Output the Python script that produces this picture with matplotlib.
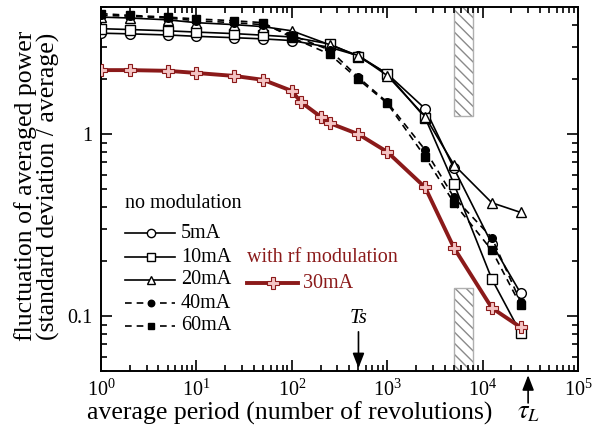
import matplotlib
matplotlib.use("Agg")
import matplotlib.pyplot as plt
from matplotlib.patches import Rectangle
from matplotlib.lines import Line2D
from matplotlib.ticker import LogLocator, FixedLocator, FixedFormatter, NullFormatter

plt.rcParams['font.family'] = ['Liberation Serif', 'DejaVu Serif']
plt.rcParams['mathtext.fontset'] = 'stix'

# ---- data ----
x_black = [1, 2, 5, 10, 25, 50, 100, 250, 500, 1000, 2500, 5000, 12500, 25000]
y_5mA = [3.59, 3.56, 3.51, 3.45, 3.39, 3.34, 3.27, 3.0, 2.7, 2.15, 1.38, 0.65, 0.25, 0.134]
y_10mA = [3.8, 3.76, 3.7, 3.64, 3.57, 3.5, 3.42, 3.13, 2.67, 2.15, 1.23, 0.535, 0.16, 0.081]
y_20mA = [4.4, 4.35, 4.25, 4.1, 4.0, 3.9, 3.7, 3.1, 2.7, 2.1, 1.25, 0.68, 0.42, 0.372]
y_40mA = [4.5, 4.45, 4.35, 4.2, 4.1, 4.0, 3.5, 2.9, 2.05, 1.5, 0.82, 0.45, 0.27, 0.12]
y_60mA = [4.6, 4.5, 4.4, 4.3, 4.2, 4.1, 3.4, 2.75, 2.0, 1.48, 0.75, 0.42, 0.23, 0.115]

x_rf = [1, 2, 5, 10, 25, 50, 100, 125, 200, 250, 500, 1000, 2500, 5000, 12500, 25000]
y_rf = [2.25, 2.25, 2.23, 2.17, 2.09, 1.99, 1.73, 1.5, 1.25, 1.15, 1.0, 0.80, 0.51, 0.238, 0.111, 0.087]

labels_black = ['5mA', '10mA', '20mA', '40mA', '60mA']
label_rf = '30mA'
hatch_x = [5000, 7900]
hatch_upper_y = 1.26
hatch_lower_y = 0.143
Ts_x = 500
tauL_x = 30000

dark_red = '#8b1a1a'
DASH = (0, (4, 3))

fig = plt.figure(figsize=(5.93, 4.32), dpi=100)
ax = fig.add_axes([0.1703, 0.1412, 0.8044, 0.8426])
ax.set_xscale('log')
ax.set_yscale('log')
ax.set_xlim(1, 1e5)
ax.set_ylim(0.05, 5)

# hatched regions
for (y0, y1) in [(hatch_upper_y, 5), (0.05, hatch_lower_y)]:
    ax.add_patch(Rectangle((hatch_x[0], y0), hatch_x[1] - hatch_x[0], y1 - y0,
                           facecolor='none', edgecolor='#8a8a8a', hatch='\\\\\\', lw=0, zorder=1))
    ax.add_patch(Rectangle((hatch_x[0], y0), hatch_x[1] - hatch_x[0], y1 - y0,
                           facecolor='none', edgecolor='#b0b0b0', lw=1.0, zorder=1))

styles = [
    dict(ls='-', marker='o', mfc='white', ms=7),
    dict(ls='-', marker='s', mfc='white', ms=7),
    dict(ls='-', marker='^', mfc='white', ms=7),
    dict(ls=DASH, marker='o', mfc='black', ms=5.5),
    dict(ls=DASH, marker='s', mfc='black', ms=5.5),
]
series = [y_5mA, y_10mA, y_20mA, y_40mA, y_60mA]
for ys, st in zip(series, styles):
    ax.plot(x_black, ys, color='black', lw=1.2, mec='black', mew=1.0, zorder=3,
            linestyle=st['ls'], marker=st['marker'], mfc=st['mfc'], ms=st['ms'])

ax.plot(x_rf, y_rf, color=dark_red, lw=2.8, marker='P', ms=8, mfc='#f4c4c4',
        mec=dark_red, mew=0.8, zorder=4)

# ticks
ax.tick_params(which='both', direction='in', top=True, right=True, width=1.2)
ax.tick_params(which='major', length=8, labelsize=14.5, pad=6)
ax.tick_params(which='minor', length=4.5)
ax.xaxis.set_major_locator(LogLocator(base=10, numticks=10))
ax.xaxis.set_minor_locator(LogLocator(base=10, subs=range(2, 10), numticks=20))
ax.xaxis.set_minor_formatter(NullFormatter())
ax.yaxis.set_major_locator(FixedLocator([0.1, 1]))
ax.yaxis.set_major_formatter(FixedFormatter(['0.1', '1']))
ax.yaxis.set_minor_locator(LogLocator(base=10, subs=range(2, 10), numticks=20))
ax.yaxis.set_minor_formatter(NullFormatter())
for sp in ax.spines.values():
    sp.set_linewidth(1.4)

fig.text(290 / 593, 1 - 413 / 432, 'average period (number of revolutions)', fontsize=18.5,
         ha='center', va='center')
fig.text(37 / 593, 1 - 186 / 432, 'fluctuation of averaged power\n(standard deviation / average)',
         fontsize=18.5, rotation=90, ha='center', va='center', multialignment='center',
         linespacing=0.95)

# legend (manual)
fig.text(125 / 593, 1 - 203 / 432, 'no modulation', fontsize=14.5, va='center', ha='left')
leg_rows = [233, 257, 280, 303, 326]
for yy, lab, st in zip(leg_rows, labels_black, styles):
    yf = 1 - yy / 432
    ln = Line2D([125 / 593, 175 / 593], [yf, yf], transform=fig.transFigure, color='black', lw=1.2,
                linestyle=st['ls'])
    fig.add_artist(ln)
    mk = Line2D([151 / 593], [yf], transform=fig.transFigure, marker=st['marker'], mfc=st['mfc'],
                mec='black', ms=st['ms'] * 0.85, color='black', linestyle='none')
    fig.add_artist(mk)
    fig.text(181 / 593, yf, lab, fontsize=14.5, va='center', ha='left')

fig.text(247 / 593, 1 - 257 / 432, 'with rf modulation', fontsize=14.5, va='center', ha='left', color=dark_red)
yf = 1 - 283 / 432
fig.add_artist(Line2D([247 / 593, 298 / 593], [yf, yf], transform=fig.transFigure, color=dark_red, lw=2.8))
fig.add_artist(Line2D([273 / 593], [yf], transform=fig.transFigure, marker='P', ms=8, mfc='#f4c4c4',
                      mec=dark_red, mew=0.8, linestyle='none'))
fig.text(303 / 593, yf, label_rf, fontsize=14.5, va='center', ha='left', color=dark_red)

# arrows
ax.annotate('', xy=(Ts_x, 0.05), xytext=(Ts_x, 0.085),
            arrowprops=dict(arrowstyle='-|>,head_length=0.9,head_width=0.35', color='black', lw=1.2))
ax.text(Ts_x, 0.097, 'Ts', fontsize=15, style='italic', ha='center', va='center')
ax.annotate('', xy=(tauL_x, 0.05), xycoords='data', xytext=(0, -23), textcoords='offset points',
            arrowprops=dict(arrowstyle='-|>,head_length=0.9,head_width=0.35', color='black', lw=1.2,
                            shrinkA=0, shrinkB=3),
            annotation_clip=False)
fig.text(529 / 593, 1 - 413 / 432, r'$\tau_{\mathit{L}}$', fontsize=19, ha='center', va='center')

fig.savefig('out.png', dpi=100)
